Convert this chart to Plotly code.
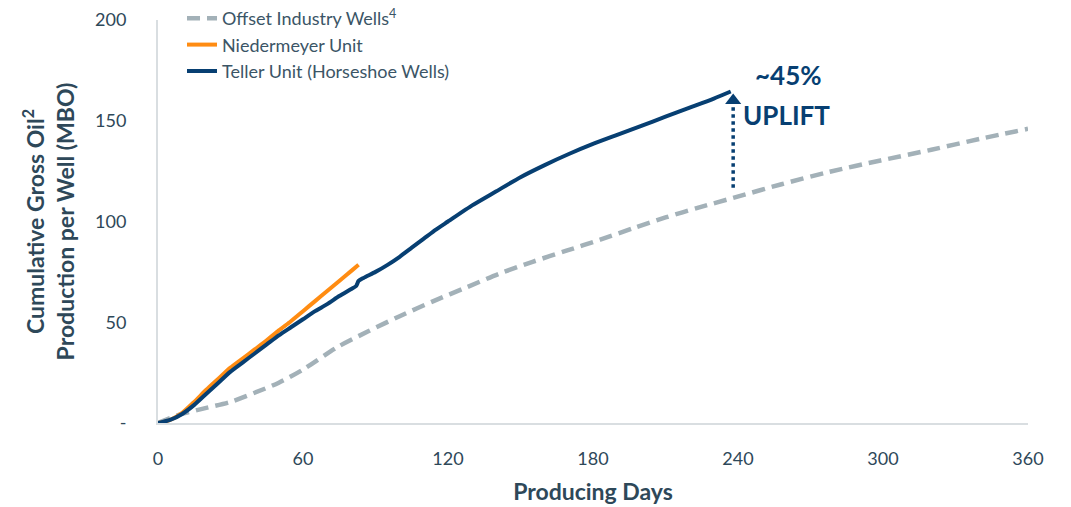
import plotly.graph_objects as go

# Cumulative gross oil per well (MBO) vs producing days
offset_days = [0, 5, 10, 20, 30, 40, 50, 60, 74, 87, 100, 114, 128, 141, 155, 169, 183, 197,
               210, 224, 238, 258, 278, 299, 320, 340, 360]
offset_mbo = [0, 2.5, 4.5, 7.5, 10.5, 15, 20, 26.5, 37.5, 45.5, 53, 60.5, 67.5, 74, 80, 85.5,
              91, 96.8, 102, 107, 111.7, 118.5, 124.7, 130.3, 135.6, 141, 146]

nieder_days = [0, 5, 10, 15, 20, 25, 30, 35, 40, 45, 50, 55, 60, 65, 70, 75, 80, 83]
nieder_mbo = [0, 1.5, 5, 10.5, 16.5, 22, 27.5, 32, 36.5, 41, 46, 50.5, 55.5, 60.5, 65.5, 70.5,
              75.5, 78.5]

teller_days = [0, 5, 10, 15, 20, 25, 30, 35, 40, 45, 50, 55, 60, 65, 70, 75, 80, 82, 83, 85,
               90, 95, 100, 105, 110, 115, 120, 130, 140, 150, 160, 170, 180, 190, 200, 210,
               220, 230, 237]
teller_mbo = [0, 1.5, 4.5, 9, 14.5, 20, 25.5, 30, 34.5, 39, 43.5, 47.5, 51.5, 55.5, 59, 63,
              66.5, 68, 70.5, 72, 75, 78.5, 82.5, 87, 91.5, 96, 100, 108, 115, 122, 128, 133.5,
              138.5, 143, 147.5, 152, 156.5, 161, 164.5]

x_ticks = [0, 60, 120, 180, 240, 300, 360]
y_ticks = [0, 50, 100, 150, 200]
y_tick_text = ["-", "50", "100", "150", "200"]

NAVY = "#073f72"
ORANGE = "#ff8c12"
GRAY = "#a3b1b8"
TEXT = "#2e4859"
FONT = "Lato"

fig = go.Figure()
fig.add_trace(go.Scatter(x=offset_days, y=offset_mbo, mode="lines",
                         name="Offset Industry Wells<sup>4</sup>",
                         line=dict(color=GRAY, width=4.5, dash="13px,7px",
                                   shape="spline", smoothing=0.8)))
fig.add_trace(go.Scatter(x=nieder_days, y=nieder_mbo, mode="lines",
                         name="Niedermeyer Unit",
                         line=dict(color=ORANGE, width=4, shape="spline", smoothing=0.6)))
fig.add_trace(go.Scatter(x=teller_days, y=teller_mbo, mode="lines",
                         name="Teller Unit (Horseshoe Wells)",
                         line=dict(color=NAVY, width=4, shape="spline", smoothing=0.6)))

# Uplift arrow between the offset curve and the Teller end point
arrow_x = teller_days[-1] + 1
base_y = offset_mbo[offset_days.index(238)] + 5
top_y = teller_mbo[-1] - 6
fig.add_trace(go.Scatter(x=[arrow_x, arrow_x], y=[base_y, top_y], mode="lines",
                         line=dict(color=NAVY, width=3.5, dash="dot"),
                         showlegend=False, hoverinfo="skip"))
fig.add_trace(go.Scatter(x=[arrow_x], y=[top_y + 1.5], mode="markers",
                         marker=dict(symbol="triangle-up", size=14, color=NAVY),
                         showlegend=False, hoverinfo="skip"))

fig.add_annotation(x=arrow_x + 23, y=teller_mbo[-1] + 8, xref="x", yref="y",
                   text="<b>~45%</b>", showarrow=False,
                   xanchor="center", yanchor="middle",
                   font=dict(family=FONT, size=26, color=NAVY))
fig.add_annotation(x=arrow_x + 22, y=teller_mbo[-1] - 11.5, xref="x", yref="y",
                   text="<b>UPLIFT</b>", showarrow=False,
                   xanchor="center", yanchor="middle",
                   font=dict(family=FONT, size=26, color=NAVY))

fig.update_layout(
    width=1071, height=507,
    margin=dict(l=158, r=43, t=20, b=84, autoexpand=False),
    paper_bgcolor="white", plot_bgcolor="white",
    font=dict(family=FONT, color=TEXT),
    showlegend=True,
    legend=dict(x=0.0276, y=1.0, xanchor="left", yanchor="top", yref="container",
                font=dict(family=FONT, size=18, color="#3b5566"),
                bgcolor="rgba(0,0,0,0)", tracegroupgap=0, itemwidth=30),
)
fig.update_xaxes(range=[0, 360], tickvals=x_ticks, showgrid=False, zeroline=False,
                 showline=True, linecolor="#d9dee1", linewidth=2,
                 ticks="", ticklabelstandoff=18, automargin=False,
                 tickfont=dict(family=FONT, size=18, color=TEXT),
                 title=dict(text="<b>Producing Days</b>", standoff=16,
                            font=dict(family=FONT, size=23, color=TEXT)))
fig.update_yaxes(range=[0, 200], tickvals=y_ticks, ticktext=y_tick_text,
                 showgrid=False, zeroline=False,
                 showline=True, linecolor="#d9dee1", linewidth=2,
                 ticks="", ticklabelstandoff=26, automargin=False,
                 tickfont=dict(family=FONT, size=18, color=TEXT),
                 title=dict(text="<b>Cumulative Gross Oil<sup>2</sup><br>Production per Well (MBO)</b>",
                            standoff=14,
                            font=dict(family=FONT, size=23, color=TEXT)))

fig.write_html("out.html")
